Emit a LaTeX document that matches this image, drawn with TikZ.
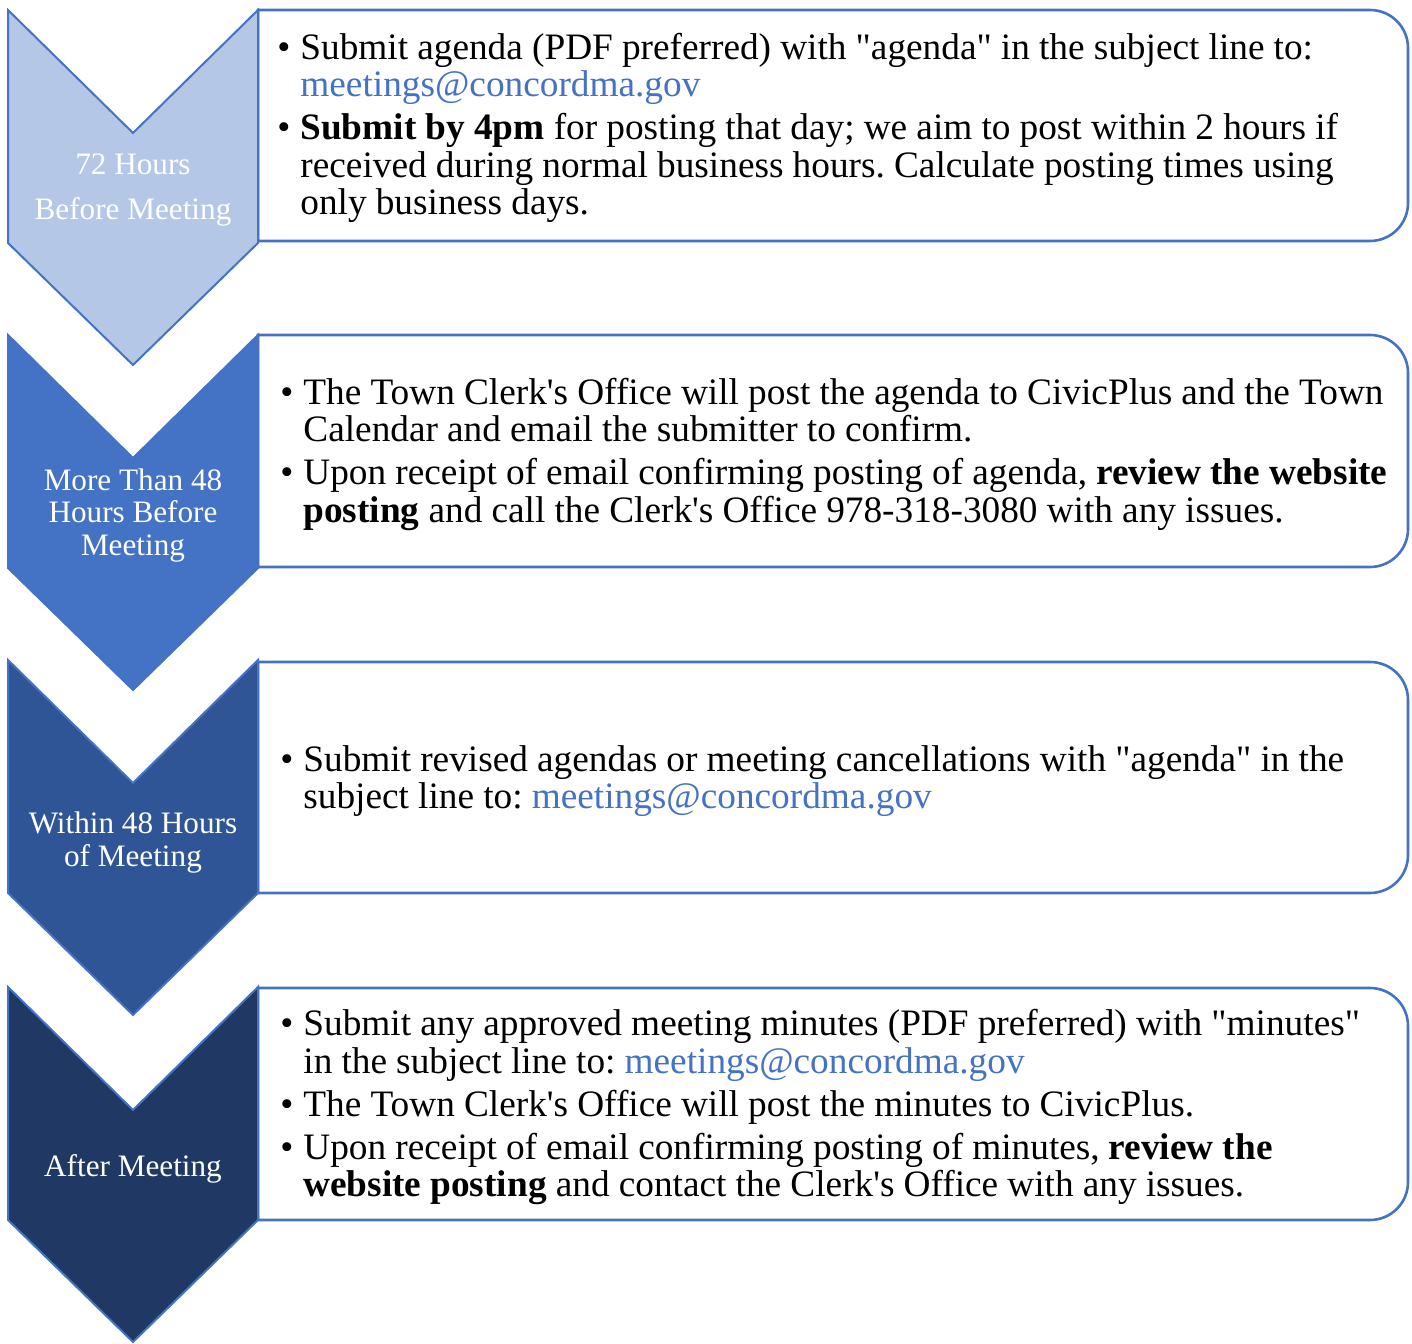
\documentclass[tikz,border=0pt]{standalone}
\usepackage{fontspec}
\defaultfontfeatures[\rmfamily]{}
\setmainfont{Liberation Serif}
\definecolor{accent}{HTML}{4472C4}
\definecolor{paleblue}{HTML}{B4C7E7}
\definecolor{midblue}{HTML}{2F5597}
\definecolor{navy}{HTML}{203864}
\newcommand{\mail}{\textcolor{accent}{meetings@concordma.gov}}
\newcommand{\notesfont}{\fontsize{18.65}{18.75}\selectfont\frenchspacing
  \spaceskip=0.245em\relax\xspaceskip=0.245em\relax
  \parskip=2.75pt\relax}
\newcommand{\bul}[1]{\par\leftskip=0pt\rightskip=0pt plus 1fil\parfillskip=0pt plus 1fil
  \hangindent=11.5pt\hangafter=1\noindent\makebox[11.5pt][l]{\textbullet}#1\par}
\newcommand{\notes}[1]{\parbox{600pt}{\notesfont #1}}
\tikzset{
  chevron/.style={draw=accent, line width=1pt, line join=miter},
  card/.style={draw=accent, line width=1.3pt, fill=white},
  stage/.style={text=white, align=center, inner sep=0pt, font=\fontsize{15.6}{16.3}\selectfont},
  notesnode/.style={anchor=west, inner sep=0pt},
}

\begin{document}
\begin{tikzpicture}[x=0.5pt,y=0.5pt]
	\useasboundingbox (0,0) rectangle (1412,1343);
	% cards
	\draw[card] (258,1333) -- (1370,1333) arc[start angle=90,end angle=0,radius=38] -- (1408,1140) arc[start angle=0,end angle=-90,radius=38] -- (258,1102) -- cycle;
	\draw[card] (258,1008) -- (1370,1008) arc[start angle=90,end angle=0,radius=38] -- (1408,814) arc[start angle=0,end angle=-90,radius=38] -- (258,776) -- cycle;
	\draw[card] (258,681) -- (1370,681) arc[start angle=90,end angle=0,radius=38] -- (1408,488) arc[start angle=0,end angle=-90,radius=38] -- (258,450) -- cycle;
	\draw[card] (258,355) -- (1370,355) arc[start angle=90,end angle=0,radius=38] -- (1408,161) arc[start angle=0,end angle=-90,radius=38] -- (258,123) -- cycle;
	% chevrons
	\draw[chevron,fill=paleblue] (8,1333) -- (133,1210) -- (258,1333) -- (258,1100) -- (133,978) -- (8,1100) -- cycle;
	\draw[chevron,fill=accent] (8,1008) -- (133,885) -- (258,1008) -- (258,775) -- (133,653) -- (8,775) -- cycle;
	\draw[chevron,fill=midblue] (8,683) -- (133,560) -- (258,683) -- (258,450) -- (133,328) -- (8,450) -- cycle;
	\draw[chevron,fill=navy] (8,356) -- (133,233) -- (258,356) -- (258,123) -- (133,1) -- (8,123) -- cycle;
	% stage labels
	\node[stage] (s72) at (133,1152.5) {72 Hours\\[6.2pt]Before Meeting};
	\node[stage] (s48) at (133,827.5) {More Than 48\\Hours Before\\Meeting};
	\node[stage] (sin) at (133,500.5) {Within 48 Hours\\of Meeting};
	\node[stage] (saf) at (133,174) {After Meeting};
	% notes
	\node[notesnode] (n72) at (277,1215) {\notes{%
		\bul{Submit agenda (PDF preferred) with "agenda" in the subject line to:\newline\mail}%
		\bul{\textbf{Submit by 4pm} for posting that day; we aim to post within 2 hours if\newline received during normal business hours. Calculate posting times using\newline only business days.}}};
	\node[notesnode] (n48) at (280,889) {\notes{%
		\bul{The Town Clerk's Office will post the agenda to CivicPlus and the Town\newline Calendar and email the submitter to confirm.}%
		\bul{Upon receipt of email confirming posting of agenda, \textbf{review the website}\newline\textbf{posting} and call the Clerk's Office 978-318-3080 with any issues.}}};
	\node[notesnode] (nin) at (280,562) {\notes{%
		\bul{Submit revised agendas or meeting cancellations with "agenda" in the\newline subject line to: \mail}}};
	\node[notesnode] (naf) at (280,236) {\notes{%
		\bul{Submit any approved meeting minutes (PDF preferred) with "minutes"\newline in the subject line to: \mail}%
		\bul{The Town Clerk's Office will post the minutes to CivicPlus.}%
		\bul{Upon receipt of email confirming posting of minutes, \textbf{review the}\newline\textbf{website posting} and contact the Clerk's Office with any issues.}}};
\end{tikzpicture}
\end{document}
